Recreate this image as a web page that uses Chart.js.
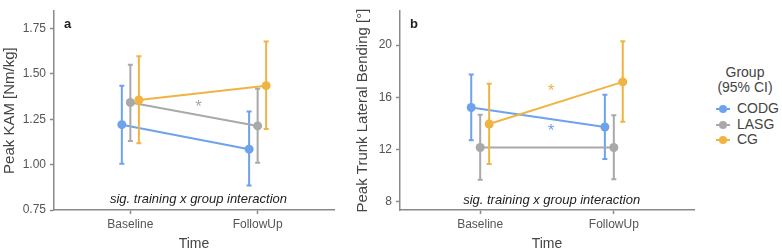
<!DOCTYPE html>
<html>
<head>
<meta charset="utf-8">
<script src="https://cdn.jsdelivr.net/npm/chart.js@4.4.1/dist/chart.umd.min.js"></script>
<style>
  body { margin: 0; background: #fff; }
  #wrap { position: relative; width: 782px; height: 252px; font-family: "Liberation Sans", Arial, sans-serif; }
  #chartA { position: absolute; left: 0; top: 0; }
  #chartB { position: absolute; left: 340px; top: 0; }
  #legend { position: absolute; left: 700px; top: 65px; width: 82px; color: #444; font-size: 14px; }
  #legend .title { text-align: center; line-height: 15px; padding-left: 8px; }
  #legend .item { position: relative; height: 15.5px; line-height: 15.5px; padding-left: 37px; }
  #legend .title + .item { margin-top: 6px; }
  #legend .ln { position: absolute; left: 16px; top: 7px; width: 14px; height: 2px; }
  #legend .dot { position: absolute; left: 19px; top: 4px; width: 8px; height: 8px; border-radius: 50%; }
</style>
</head>
<body>
<div id="wrap">
  <canvas id="chartA" width="340" height="252"></canvas>
  <canvas id="chartB" width="360" height="252"></canvas>
  <div id="legend"></div>
</div>
<script>
const times = ['Baseline', 'FollowUp'];
const groups = ['CODG', 'LASG', 'CG'];
const colors = ['#6FA2EC', '#A9A9A9', '#F0B443'];
const dodge = [-0.067, 0, 0.067];

// rows: CODG, LASG, CG ; columns: Baseline, FollowUp
const kamMean = [[1.22, 1.085], [1.342, 1.213], [1.356, 1.435]];
const kamLow  = [[1.005, 0.885], [1.13, 1.01], [1.117, 1.196]];
const kamHigh = [[1.435, 1.292], [1.55, 1.418], [1.597, 1.678]];

const trunkMean = [[15.22, 13.72], [12.15, 12.15], [13.95, 17.18]];
const trunkLow  = [[12.7, 11.27], [9.67, 9.72], [10.88, 14.12]];
const trunkHigh = [[17.75, 16.2], [14.66, 14.62], [17.04, 20.3]];

const kamTicks = [0.75, 1.00, 1.25, 1.50, 1.75];
const trunkTicks = [8, 12, 16, 20];

const noteText = 'sig. training x group interaction';
const kamStars = [{x: 1.535, y: 1.32, g: 1}];
const trunkStars = [{x: 1.53, y: 16.5, g: 2}, {x: 1.53, y: 13.5, g: 0}];

const axisGray = '#8a8a8a';

const extras = {
  id: 'extras',
  afterDatasetsDraw(chart, args, o) {
    const ctx = chart.ctx;
    const xs = chart.scales.x, ys = chart.scales.y;
    ctx.save();
    ctx.fillStyle = '#222';
    ctx.font = 'bold 13px "Liberation Sans", Arial, sans-serif';
    ctx.textAlign = 'left';
    ctx.textBaseline = 'middle';
    ctx.fillText(o.label, chart.chartArea.left + 10, chart.chartArea.top + 13);
    ctx.font = 'italic 13px "Liberation Sans", Arial, sans-serif';
    ctx.textAlign = 'center';
    ctx.fillText(noteText, xs.getPixelForValue(o.note.x), ys.getPixelForValue(o.note.y));
    ctx.font = '17px "Liberation Sans", Arial, sans-serif';
    o.stars.forEach(s => {
      ctx.fillStyle = colors[s.g];
      ctx.fillText('*', xs.getPixelForValue(s.x), ys.getPixelForValue(s.y) + 1);
    });
    ctx.restore();
  }
};

function buildDatasets(mean, low, high) {
  const ds = [];
  groups.forEach((g, gi) => {
    times.forEach((t, ti) => {
      const x = ti + 1 + dodge[gi];
      ds.push({
        label: g + ' CI ' + t,
        data: [{x: x, y: low[gi][ti]}, {x: x, y: high[gi][ti]}],
        borderColor: colors[gi],
        borderWidth: 2,
        pointStyle: 'line',
        pointRadius: 2.5,
        pointBorderWidth: 2,
        pointBorderColor: colors[gi],
        order: 10 - gi * 3
      });
    });
    ds.push({
      label: g,
      data: times.map((t, ti) => ({x: ti + 1 + dodge[gi], y: mean[gi][ti]})),
      borderColor: colors[gi],
      backgroundColor: colors[gi],
      borderWidth: 2,
      pointRadius: 4.5,
      pointBorderWidth: 0,
      order: 9 - gi * 3
    });
  });
  return ds;
}

function makeChart(id, mean, low, high, yMin, yMax, yTicks, decimals, yTitle, yWidth, titlePad, xMax, extra) {
  return new Chart(document.getElementById(id), {
    type: 'line',
    data: { datasets: buildDatasets(mean, low, high) },
    options: {
      responsive: false,
      animation: false,
      devicePixelRatio: 1,
      layout: { padding: { top: 3, right: 5, left: 0, bottom: 0 } },
      plugins: { legend: { display: false }, tooltip: { enabled: false }, extras: extra },
      scales: {
        x: {
          type: 'linear',
          min: 0.4,
          max: xMax,
          afterBuildTicks: s => { s.ticks = times.map((t, i) => ({ value: i + 1 })); },
          afterFit: s => { s.height = 42; },
          ticks: {
            callback: v => times[v - 1],
            color: '#555',
            font: { size: 12, family: '"Liberation Sans", Arial, sans-serif' },
            padding: 3,
            maxRotation: 0
          },
          grid: { display: true, drawOnChartArea: false, drawTicks: true, tickLength: 4, tickColor: axisGray, tickWidth: 1.5 },
          border: { display: true, color: axisGray, width: 1.5 },
          title: {
            display: true, text: 'Time', color: '#444',
            font: { size: 14, family: '"Liberation Sans", Arial, sans-serif', lineHeight: 1 },
            padding: { top: 0, bottom: 1 }
          }
        },
        y: {
          type: 'linear',
          min: yMin,
          max: yMax,
          afterBuildTicks: s => { s.ticks = yTicks.map(v => ({ value: v })); },
          afterFit: s => { s.width = yWidth; },
          ticks: {
            callback: v => v.toFixed(decimals),
            color: '#555',
            font: { size: 12, family: '"Liberation Sans", Arial, sans-serif' },
            padding: 4
          },
          grid: { display: true, drawOnChartArea: false, drawTicks: true, tickLength: 4, tickColor: axisGray, tickWidth: 1.5 },
          border: { display: true, color: axisGray, width: 1.5 },
          title: {
            display: true, text: yTitle, color: '#444',
            font: { size: 15, family: '"Liberation Sans", Arial, sans-serif', lineHeight: 1.2 },
            padding: { top: titlePad, bottom: 0 }
          }
        }
      }
    },
    plugins: [extras]
  });
}

makeChart('chartA', kamMean, kamLow, kamHigh, 0.75, 1.845, kamTicks, 2,
  'Peak KAM [Nm/kg]', 54, 1, 2.6,
  { label: 'a', note: { x: 1.535, y: 0.81 }, stars: kamStars });

makeChart('chartB', trunkMean, trunkLow, trunkHigh, 7.36, 22.6, trunkTicks, 0,
  'Peak Trunk Lateral Bending [°]', 60, 14, 2.6,
  { label: 'b', note: { x: 1.535, y: 8.13 }, stars: trunkStars });

// legend
const leg = document.getElementById('legend');
leg.innerHTML = '<div class="title">Group<br>(95% CI)</div>' + groups.map((g, i) =>
  '<div class="item"><span class="ln" style="background:' + colors[i] + '"></span>' +
  '<span class="dot" style="background:' + colors[i] + '"></span>' + g + '</div>').join('');
</script>
</body>
</html>
